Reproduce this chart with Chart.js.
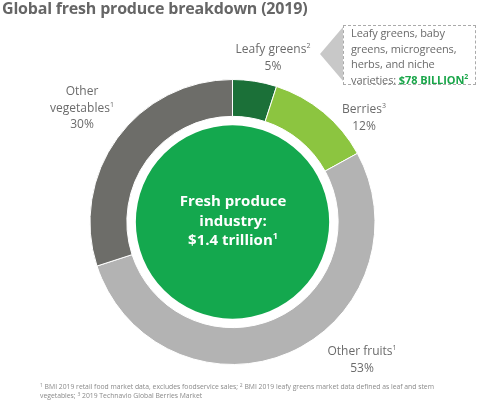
<!DOCTYPE html>
<html lang="en">
<head>
  <meta charset="UTF-8">
  <title>Global fresh produce breakdown (2019)</title>
  <script src="https://cdn.jsdelivr.net/npm/chart.js"></script>
  <style>
    body { margin: 0; background: #fff; font-family: "Open Sans", sans-serif; }
    #wrap { position: relative; width: 482px; height: 406px; overflow: hidden; }
    #wrap canvas { position: absolute; left: 0; top: 0; }
    .t { position: absolute; color: #6b6b6b; white-space: nowrap; }
    .lbl { font-size: 12px; line-height: 16.5px; text-align: center; transform: translateX(-50%); }
    sup { font-size: 7px; vertical-align: 5px; line-height: 0; }
    #title { left: 2px; top: -3px; font-size: 16px; font-weight: 700; color: #666; letter-spacing: -0.2px; }
    #center { left: 233px; top: 191px; color: #fff; font-weight: 700; font-size: 15px; line-height: 19.5px; }
    #center sup { font-size: 9px; vertical-align: 6px; }
    #box { position: absolute; left: 343px; top: 25px; width: 133px; height: 60px; border: 1px dashed #aaa; box-sizing: border-box; }
    #arrow { position: absolute; left: 320px; top: 27px; width: 0; height: 0;
      border-top: 27px solid transparent; border-bottom: 27px solid transparent; border-right: 23px solid #c8c8c8; }
    #boxtext { left: 351px; top: 25px; font-size: 11px; line-height: 15.5px; letter-spacing: -0.1px; }
    #boxtext b { color: #1aa64a; }
    #foot { left: 40px; top: 382px; font-size: 6.8px; line-height: 9px; color: #8a8a8a; }
    #foot sup { font-size: 5px; vertical-align: 2px; }
  </style>
</head>
<body>
<div id="wrap">
  <canvas id="donut" width="482" height="406"></canvas>
  <div class="t" id="title">Global fresh produce breakdown (2019)</div>
  <div id="arrow"></div>
  <div id="box"></div>
  <div class="t" id="boxtext">Leafy greens, baby<br>greens, microgreens,<br>herbs, and niche<br>varieties: <b>$78 BILLION<sup>2</sup></b></div>
  <div class="t lbl" style="left:273px; top:41px;">Leafy greens<sup>2</sup><br>5%</div>
  <div class="t lbl" style="left:364px; top:101px;">Berries<sup>3</sup><br>12%</div>
  <div class="t lbl" style="left:82px; top:83px;">Other<br>vegetables<sup>1</sup><br>30%</div>
  <div class="t lbl" style="left:362px; top:343px;">Other fruits<sup>1</sup><br>53%</div>
  <div class="t lbl" id="center">Fresh produce<br>industry:<br>$1.4 trillion<sup>1</sup></div>
  <div class="t" id="foot"><sup>1</sup> BMI 2019 retail food market data, excludes foodservice sales; <sup>2</sup> BMI 2019 leafy greens market data defined as leaf and stem<br>vegetables; <sup>3</sup> 2019 Technavio Global Berries Market</div>
</div>
<script>
// segments clockwise from 12 o'clock
const categories = ['Leafy greens', 'Berries', 'Other fruits', 'Other vegetables'];
const shares = [5, 12, 53, 30];
const segmentColors = ['#1b7038', '#8cc540', '#b3b3b3', '#6d6d69'];
const industryTotal = [1.4];

new Chart(document.getElementById('donut'), {
  type: 'doughnut',
  data: {
    labels: categories,
    datasets: [
      { data: shares, backgroundColor: segmentColors, borderColor: '#fff', borderWidth: 1, weight: 37 },
      { data: [1], backgroundColor: 'rgba(0,0,0,0)', borderWidth: 0, weight: 9 },
      { data: industryTotal, backgroundColor: ['#14a84e'], borderWidth: 0, weight: 97 }
    ]
  },
  options: {
    responsive: false,
    animation: false,
    cutout: 0,
    layout: { padding: { left: 89.5, right: 106.5, top: 79, bottom: 41 } },
    plugins: { legend: { display: false }, tooltip: { enabled: false } },
    events: []
  }
});
</script>
</body>
</html>
